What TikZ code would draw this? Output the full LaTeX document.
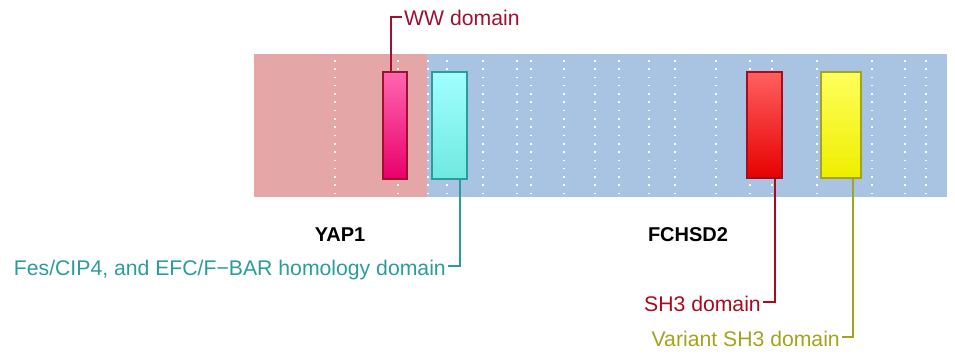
\documentclass[tikz,border=0pt]{standalone}
\usepackage{fontspec}
\setmainfont{Liberation Sans}
\usepackage{xcolor}
\usepackage{tikz}
\usetikzlibrary{positioning}
\definecolor{bgred}{RGB}{228,166,166}
\definecolor{bgblue}{RGB}{168,196,226}
\definecolor{wwtop}{RGB}{255,102,178}
\definecolor{wwbot}{RGB}{232,0,106}
\definecolor{wwline}{RGB}{160,16,48}
\definecolor{fcbtop}{RGB}{160,255,255}
\definecolor{fcbbot}{RGB}{112,232,224}
\definecolor{fcbline}{RGB}{42,157,152}
\definecolor{shtop}{RGB}{255,96,96}
\definecolor{shbot}{RGB}{230,0,0}
\definecolor{shline}{RGB}{168,10,30}
\definecolor{vshtop}{RGB}{255,255,92}
\definecolor{vshbot}{RGB}{238,238,0}
\definecolor{vshline}{RGB}{163,163,28}
\tikzset{
  dom/.style  ={rectangle, line width=1.3pt, inner sep=0pt, minimum height=107pt},
  exon/.style ={white, line width=1.6pt, dash pattern=on 1.6pt off 6.7pt},
  pin/.style  ={line width=1.6pt},
  lbl/.style  ={font=\fontsize{21.2}{24}\selectfont, inner xsep=2pt, inner ysep=0pt,
                text height=18pt, text depth=0pt},
  prot/.style ={font=\fontsize{20}{24}\selectfont\bfseries, inner sep=0pt}
}
\begin{document}
\begin{tikzpicture}[x=1pt, y=-1pt]
\useasboundingbox (0,0) rectangle (955,358);
% Proteins
\fill[bgred] (254,54) rectangle (427,197);
\fill[bgblue] (427,54) rectangle (947,197);
\foreach \x in {335,398,428,447,483,517,531,564,595,619,649,675,716,750,772,817,872,905,926}
  \draw[exon] (\x,60) -- (\x,195);
\node[prot, anchor=base] (yap1) at (340,241) {YAP1};
\node[prot, anchor=base] (fchsd2) at (688,241) {FCHSD2};
% Domains
\node[dom, minimum width=24pt, draw=wwline, top color=wwtop, bottom color=wwbot] (ww) at (395,125.5) {};
\node[dom, minimum width=35pt, draw=fcbline, top color=fcbtop, bottom color=fcbbot] (fcb) at (449.5,125.5) {};
\node[dom, minimum width=35pt, minimum height=106pt, draw=shline, top color=shtop, bottom color=shbot] (sh3) at (764.5,125) {};
\node[dom, minimum width=40pt, minimum height=106pt, draw=vshline, top color=vshtop, bottom color=vshbot] (vsh3) at (841,125) {};
% Labels
\coordinate (wwpin) at (391,72);
\coordinate (fcbpin) at (460,179);
\coordinate (sh3pin) at (775,178);
\coordinate (vsh3pin) at (853,178);
\node[lbl, text=wwline, anchor=west] (wwlbl) at (402,17) {WW domain};
\node[lbl, text=fcbline, anchor=east] (fcblbl) at (448,266) {Fes/CIP4, and EFC/F−BAR homology domain};
\node[lbl, text=shline, anchor=east] (sh3lbl) at (763,302) {SH3 domain};
\node[lbl, text=vshline, anchor=east] (vsh3lbl) at (842,337) {Variant SH3 domain};
\draw[pin, draw=wwline] (wwpin) |- (wwlbl.west);
\draw[pin, draw=fcbline] (fcbpin) |- (fcblbl.east);
\draw[pin, draw=shline] (sh3pin) |- (sh3lbl.east);
\draw[pin, draw=vshline] (vsh3pin) |- (vsh3lbl.east);
\end{tikzpicture}
\end{document}
